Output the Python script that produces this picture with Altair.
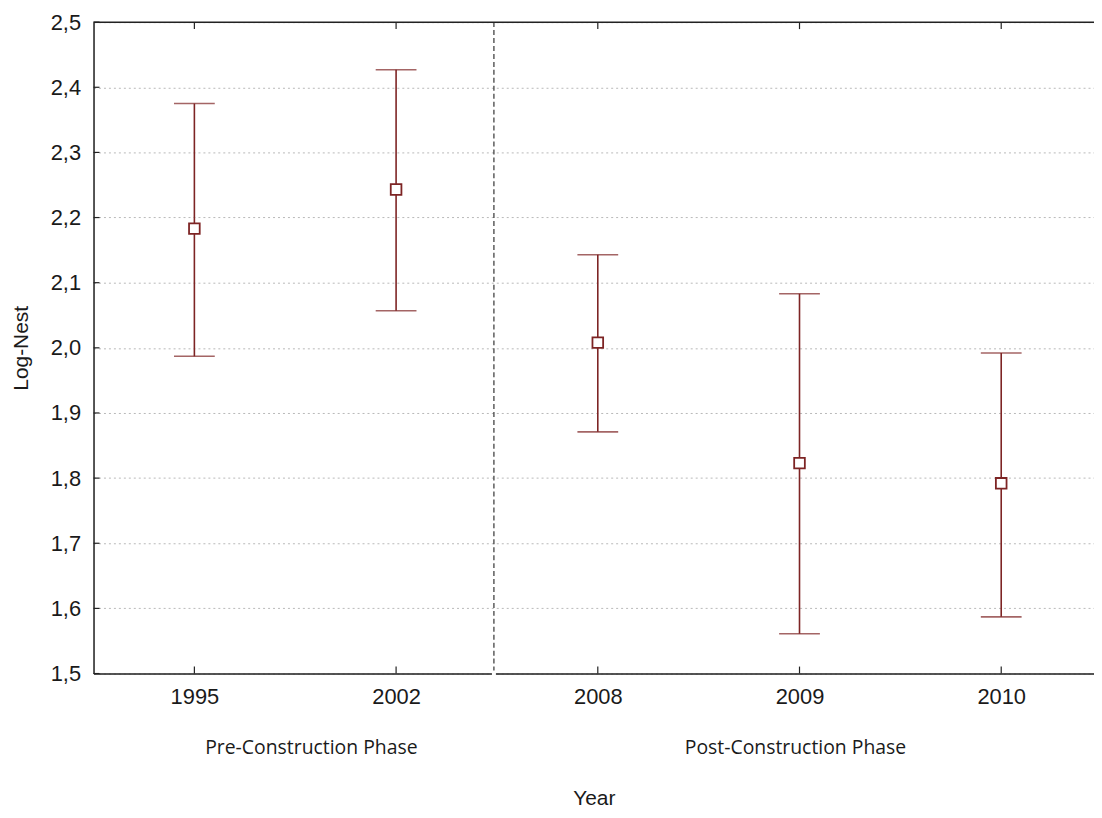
import altair as alt
import pandas as pd

years = ["1995", "2002", "2008", "2009", "2010"]
means = [2.183, 2.243, 2.008, 1.823, 1.792]
upper = [2.375, 2.427, 2.143, 2.083, 1.992]
lower = [1.987, 2.057, 1.871, 1.561, 1.587]

phases = ["Pre-Construction Phase", "Post-Construction Phase"]
phase_pos = [0.58, 2.98]
boundary = [1.485]
y_ticks = [1.5, 1.6, 1.7, 1.8, 1.9, 2.0, 2.1, 2.2, 2.3, 2.4, 2.5]
y_min, y_max = 1.5, 2.5
x_min, x_max = -0.5, 4.46

RED = "#7d2424"
FONT = "Liberation Sans"

df = pd.DataFrame({"idx": list(range(len(years))), "year": years,
                   "mean": means, "upper": upper, "lower": lower})
ph = pd.DataFrame({"pos": phase_pos, "label": phases})
bd = pd.DataFrame({"pos": boundary})
yt = pd.DataFrame({"v": y_ticks})
top = pd.DataFrame({"v": [y_max]})

label_list = "[" + ",".join("'%s'" % y for y in years) + "]"

xs = alt.Scale(domain=[x_min, x_max], nice=False, zero=False)
ys = alt.Scale(domain=[y_min, y_max], nice=False, zero=False)

base = alt.Chart(df)

xaxis = alt.Axis(values=list(range(len(years))), labelExpr=label_list + "[datum.value]",
                 ticks=False, grid=False, labelPadding=13, labelFontSize=22,
                 labelFont=FONT, labelColor="#1a1a1a", domainColor="#222222",
                 domainWidth=1.5, title="Year", titleFont=FONT, titleFontSize=21,
                 titleFontWeight="normal", titleColor="#1a1a1a", titlePadding=81)
yaxis = alt.Axis(values=y_ticks, labelExpr="replace(format(datum.value, '.1f'), '.', ',')",
                 ticks=False, grid=True, gridColor="#b8b8b8", gridDash=[2, 3],
                 gridWidth=1, labelPadding=13, labelFontSize=22, labelFont=FONT,
                 labelColor="#1a1a1a", domainColor="#222222", domainWidth=1.5,
                 title="Log-Nest", titleFont=FONT, titleFontSize=21,
                 titleFontWeight="normal", titleColor="#1a1a1a", titlePadding=19)

bars = base.mark_rule(color=RED, strokeWidth=1.6).encode(
    x=alt.X("idx:Q", scale=xs, axis=xaxis),
    y=alt.Y("lower:Q", scale=ys, axis=yaxis),
    y2="upper:Q",
)
cap_hi = base.mark_tick(color=RED, orient="horizontal", size=41, thickness=1.6).encode(
    x=alt.X("idx:Q", scale=xs), y=alt.Y("upper:Q", scale=ys))
cap_lo = base.mark_tick(color=RED, orient="horizontal", size=41, thickness=1.6).encode(
    x=alt.X("idx:Q", scale=xs), y=alt.Y("lower:Q", scale=ys))
pts = base.mark_point(shape="square", size=115, filled=False, fill="white",
                      fillOpacity=1, color=RED, strokeWidth=1.8, opacity=1).encode(
    x=alt.X("idx:Q", scale=xs), y=alt.Y("mean:Q", scale=ys))

# inward tick marks
xt_bottom = base.mark_rule(color="#222222", strokeWidth=1.2).encode(
    x=alt.X("idx:Q", scale=xs), y=alt.value(655), y2=alt.value(648))
xt_top = base.mark_rule(color="#222222", strokeWidth=1.2).encode(
    x=alt.X("idx:Q", scale=xs), y=alt.value(0), y2=alt.value(7))
ytk = alt.Chart(yt).mark_rule(color="#222222", strokeWidth=1.2).encode(
    y=alt.Y("v:Q", scale=ys), x=alt.value(0), x2=alt.value(6))

top_line = alt.Chart(top).mark_rule(color="#222222", strokeWidth=1.5).encode(
    y=alt.Y("v:Q", scale=ys), x=alt.value(0), x2=alt.value(1006))

gap = alt.Chart(bd).mark_rule(color="white", strokeWidth=4).encode(
    x=alt.X("pos:Q", scale=xs), y=alt.value(652), y2=alt.value(658))
divider = alt.Chart(bd).mark_rule(color="#333333", strokeWidth=1.2, strokeDash=[5, 3]).encode(
    x=alt.X("pos:Q", scale=xs), y=alt.value(0), y2=alt.value(652))

phase_txt = alt.Chart(ph).mark_text(font="Open Sans", fontSize=19.5, color="#1a1a1a",
                                    baseline="middle", align="center").encode(
    x=alt.X("pos:Q", scale=xs), y=alt.value(730), text="label:N")

chart = alt.layer(
    gap, divider, top_line, bars, cap_hi, cap_lo, pts, xt_bottom, xt_top, ytk, phase_txt
).properties(
    width=1006, height=655,
    autosize=alt.AutoSizeParams(type="none"),
    padding={"left": 86, "top": 12, "right": 0, "bottom": 134},
).configure_view(stroke=None).configure(background="white")

chart.save("out.html", embed_options={"renderer": "svg", "actions": False})
